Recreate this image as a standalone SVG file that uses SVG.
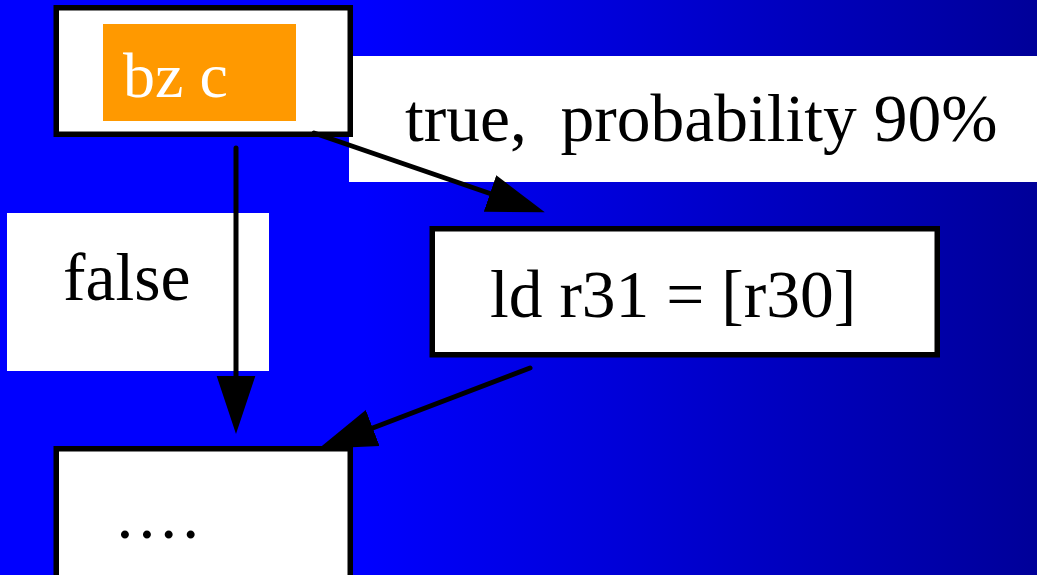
<svg xmlns="http://www.w3.org/2000/svg" width="1037" height="575" viewBox="0 0 1037 575">
  <defs>
    <linearGradient id="bg" x1="0" y1="0" x2="1037" y2="0" gradientUnits="userSpaceOnUse">
      <stop offset="0" stop-color="#0000ff"/>
      <stop offset="0.35" stop-color="#0000ff"/>
      <stop offset="1" stop-color="#000099"/>
    </linearGradient>
    <marker id="head" markerUnits="userSpaceOnUse" markerWidth="58" markerHeight="40" viewBox="0 0 57 38" refX="0" refY="19" orient="auto">
      <path d="M0,0 L57,19 L0,38 z" fill="#000"/>
    </marker>
    <style>
      .box { fill: #fff; stroke: #000; stroke-width: 5.5; }
      .lbl { fill: #fff; }
      .t { font-family: "Liberation Serif", "Times New Roman", serif; font-size: 67.5px; fill: #000; }
      .edge { stroke: #000; stroke-width: 5; stroke-linecap: round; fill: none; marker-end: url(#head); }
    </style>
  </defs>
  <rect x="0" y="0" width="1037" height="575" fill="url(#bg)"/>

  <g id="edge-labels">
    <g id="label-true">
      <rect class="lbl" x="349" y="56" width="688" height="126"/>
      <text class="t" x="405" y="141" xml:space="preserve">true,  probability 90%</text>
    </g>
    <g id="label-false">
      <rect class="lbl" x="7" y="213" width="262" height="158"/>
      <text class="t" x="63" y="300">false</text>
    </g>
  </g>

  <g id="node-bz">
    <rect class="box" x="56.25" y="7.75" width="294" height="126.5"/>
    <rect x="103" y="24" width="193" height="97" fill="#ff9900"/>
    <text class="t" x="123" y="97" style="font-size:64px;fill:#fff">bz c</text>
  </g>

  <g id="node-ld">
    <rect class="box" x="432.25" y="228.75" width="505" height="126"/>
    <text class="t" x="490" y="317">ld r31 = [r30]</text>
  </g>

  <g id="node-next">
    <rect class="box" x="56.25" y="448.75" width="294" height="140"/>
    <text class="t" x="116.5" y="538" letter-spacing="5">....</text>
  </g>

  <g id="connectors">
    <line class="edge" x1="314" y1="133" x2="490" y2="193.5"/>
    <line class="edge" x1="236" y1="148" x2="236" y2="376"/>
    <line class="edge" x1="530" y1="368" x2="372.7" y2="428"/>
  </g>
</svg>
